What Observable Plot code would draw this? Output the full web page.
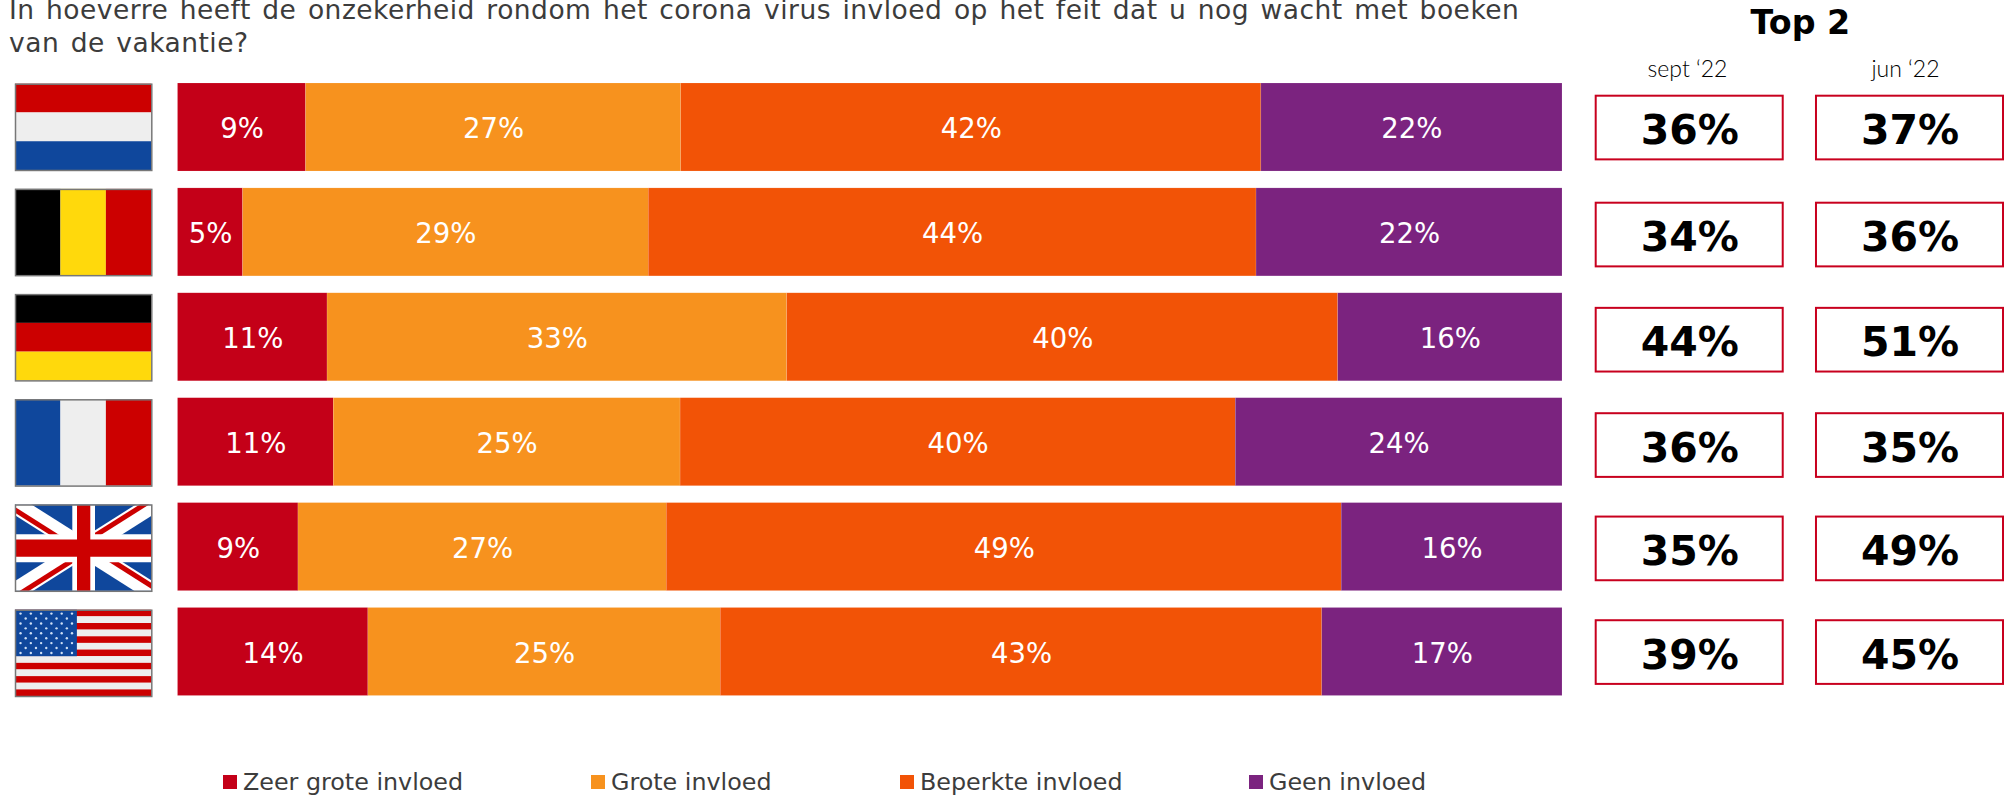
<!DOCTYPE html>
<html><head><meta charset="utf-8">
<script src="https://cdn.jsdelivr.net/npm/d3@7"></script>
<script src="https://cdn.jsdelivr.net/npm/@observablehq/plot@0.6"></script>
<style>
html,body{margin:0;padding:0;background:#fff;overflow:hidden}
#page{position:relative;width:2005px;height:796px;overflow:hidden;font-family:"DejaVu Sans",sans-serif}
#page>div{position:absolute}
#page svg{display:block;background:transparent;overflow:visible}
.title{left:9px;top:-7.5px;width:1530px;font-size:26.5px;line-height:33.5px;color:#3c3c3c;letter-spacing:.48px;word-spacing:2.6px}
.top2{left:1750.5px;top:7px;font-size:33.3px;line-height:32px;font-weight:bold;color:#000}
.period{top:54.3px;font-family:Lato,sans-serif;font-weight:300;font-size:23px;color:#000;width:160px;text-align:center}
.leg{top:768px;font-size:23.8px;color:#3c3c3c;white-space:nowrap;line-height:28px}
.leg i{position:absolute;left:-20px;top:7px;width:14px;height:14px}
</style></head><body><div id="page"></div>
<script>
const countries = ["NL","BE","DE","FR","UK","US"];
const answers = ["Zeer grote invloed","Grote invloed","Beperkte invloed","Geen invloed"];
const colors = ["#c40018","#f7921e","#f25306","#7b237f"];
const zeerGroot = [9.25,4.7,10.8,11.25,8.7,13.75];
const groot = [27.1,29.3,33.2,25.05,26.6,25.45];
const beperkt = [41.9,43.9,39.8,40.1,48.75,43.45];
const geen = [21.75,22.1,16.2,23.6,15.95,17.35];
const periods = ["sept ‘22","jun ‘22"];
const top2Sept = [36,34,44,36,35,39];
const top2Jun = [37,36,51,35,49,45];
const legendX = [243,611,920,1269];
const boxNudge = [0,2.1,2.35,2.8,1.25,0];

const page = document.getElementById("page");
function place(el){const d=document.createElement("div");d.style.left="0";d.style.top="0";d.append(el);page.append(d);}
function html(cls,text,l){const d=document.createElement("div");d.className=cls;d.textContent=text;if(l!=null)d.style.left=l+"px";page.append(d);return d;}

html("title","In hoeverre heeft de onzekerheid rondom het corona virus invloed op het feit dat u nog wacht met boeken van de vakantie?");
html("top2","Top 2");
html("period",periods[0],1607.5);
html("period",periods[1],1825.5);

const rows = countries.flatMap((c,i)=>[zeerGroot,groot,beperkt,geen].map((s,j)=>({country:c,answer:answers[j],value:s[i]})));

// stacked bars
place(Plot.plot({width:2005,height:796,margin:0,
  x:{domain:[0,100],range:[177.5,1562],axis:null},
  y:{domain:countries,range:[83,695.5],paddingInner:.161,paddingOuter:0,round:false,axis:null},
  color:{domain:answers,range:colors},
  marks:[
    Plot.barX(rows,Plot.stackX({x:"value",y:"country",fill:"answer",order:answers,stroke:"#fff",strokeOpacity:.25,strokeWidth:.5})),
    Plot.text(rows,Plot.stackX({x:"value",y:"country",z:"answer",order:answers,text:d=>Math.round(d.value)+"%",fill:"#fff",fontSize:27.5,fontFamily:"DejaVu Sans",dy:2}))
  ]}));

// Top 2 boxes
const top2 = countries.flatMap((c,i)=>[{country:c,period:periods[0],v:top2Sept[i],i},{country:c,period:periods[1],v:top2Jun[i],i}]);
place(Plot.plot({width:2005,height:796,margin:0,
  x:{domain:periods,range:[1595.7,2003],paddingInner:.151,paddingOuter:0,round:false,axis:null},
  y:{domain:countries,range:[95.7,683.9],paddingInner:.393,paddingOuter:0,round:false,axis:null},
  marks:countries.flatMap((c,i)=>{
    const row=top2.filter(d=>d.i===i);
    return [
      Plot.cell(row,{x:"period",y:"country",fill:"#fff",stroke:"#c8001e",strokeWidth:2,inset:0,dy:boxNudge[i]}),
      Plot.text(row,{x:"period",y:"country",text:d=>d.v+"%",fontSize:41,fontWeight:"bold",fontFamily:"DejaVu Sans",fill:"#000",dy:boxNudge[i]+3})
    ];
  })}));

// Flags, each in its own 0-1 facet
const red="#cc0000",white="#eeeeee",blue="#0f479c",black="#000",yellow="#ffd90c";
const stripes=[];
const hStripes=(c,cols)=>cols.forEach((f,i)=>stripes.push({country:c,x1:0,x2:1,y1:i/cols.length,y2:(i+1)/cols.length,f}));
const vStripes=(c,cols)=>cols.forEach((f,i)=>stripes.push({country:c,x1:i/cols.length,x2:(i+1)/cols.length,y1:0,y2:1,f}));
hStripes("NL",[red,white,blue]);vStripes("BE",[black,yellow,red]);hStripes("DE",[black,red,yellow]);vStripes("FR",[blue,white,red]);
stripes.push({country:"UK",x1:0,x2:1,y1:0,y2:1,f:blue});
d3.range(13).forEach(i=>stripes.push({country:"US",x1:0,x2:1,y1:i/13,y2:(i+1)/13,f:i%2?white:red}));
stripes.push({country:"US",x1:0,x2:.454,y1:0,y2:7/13,f:blue});
const uk=a=>a.map(([x1,y1,x2,y2])=>({country:"UK",x1,y1,x2,y2}));
const diagWhite=uk([[0,0,1,1],[0,1,1,0]]);
const diagRed=uk([[-.02,.04,.48,.54],[.98,-.04,.48,.46],[1.02,.96,.52,.46],[.02,1.04,.52,.54]]);
const vBar=uk([[.5,0,.5,1]]), hBar=uk([[0,.5,1,.5]]);
const stars=[];
for(let r=0;r<9;r++){const n=r%2?5:6;for(let k=0;k<n;k++)stars.push({country:"US",x:.037+(r%2?.0377:0)+k*.0755,y:.039+r*.057});}
const link=(data,w,col)=>Plot.link(data,{x1:"x1",y1:"y1",x2:"x2",y2:"y2",fy:"country",stroke:col,strokeWidth:w,clip:true});
place(Plot.plot({width:170,height:796,marginLeft:15,marginRight:18.7,marginTop:0,marginBottom:0,
  x:{domain:[0,1],axis:null},y:{domain:[1,0],axis:null,range:[86.3,0]},
  fy:{domain:countries,range:[83.7,696],paddingInner:.18,paddingOuter:0,round:false,axis:null},
  marks:[
    Plot.rect(stripes,{x1:"x1",x2:"x2",y1:"y1",y2:"y2",fill:"f",fy:"country",inset:0}),
    link(diagWhite,18,"#fff"),link(diagRed,5,red),
    link(vBar,22.7,"#fff"),link(hBar,28,"#fff"),link(vBar,13.3,red),link(hBar,17.3,red),
    Plot.dot(stars,{x:"x",y:"y",fy:"country",r:1.2,fill:"#cfe0f5"}),
    Plot.frame({stroke:"#777",strokeWidth:1.5})
  ]}));

// Legend
answers.forEach((a,i)=>{const d=html("leg",a,legendX[i]);const s=document.createElement("i");s.style.background=colors[i];d.append(s);});
</script></body></html>
